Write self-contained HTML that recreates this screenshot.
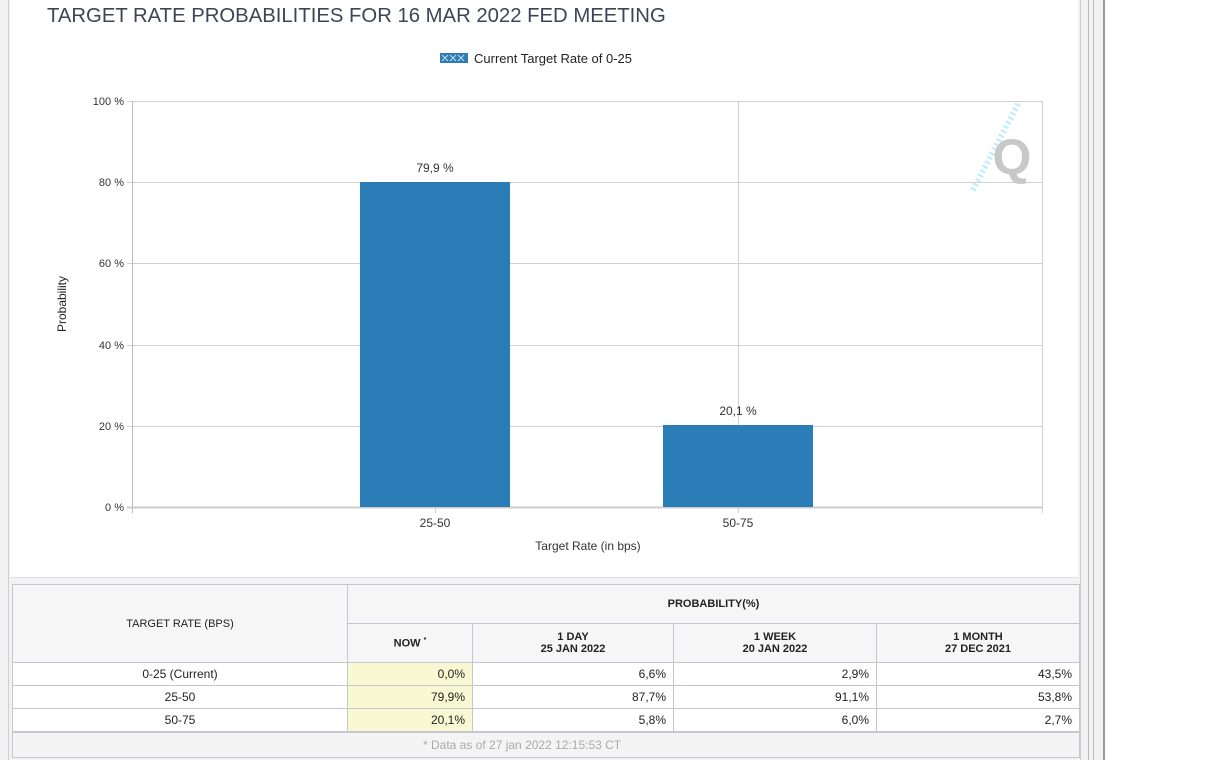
<!DOCTYPE html>
<html><head><meta charset="utf-8"><style>
body{margin:0;width:1220px;height:760px;background:#fff;position:relative;overflow:hidden;font-family:"Liberation Sans",Arial,sans-serif}
.abs{position:absolute}
table{border-collapse:collapse;position:absolute;left:12px;top:584px;width:1068px;font-size:12px;color:#222}
td{border:1px solid #c6c6d2;padding:0 7px;height:22px;background:#fff}
.h{background:#f6f6f6;text-align:center;font-weight:bold;font-size:11px}
.c{text-align:center}.r{text-align:right}td.y{background:#f8f8d2}
</style></head><body>
<div class="abs" style="left:0;top:0;width:1087px;height:760px;background:#f2f2f2"></div>
<div class="abs" style="left:8px;top:0;width:1px;height:760px;background:#d0d0d0"></div>
<div class="abs" style="left:1080px;top:0;width:22px;height:760px;background:#f2f2f2;border-left:1px solid #ccc;border-right:2px solid #999"></div>
<div class="abs" style="left:1088px;top:0;width:1px;height:760px;background:#bbb"></div>
<div class="abs" style="left:1093px;top:0;width:1px;height:760px;background:#bbb"></div>
<div class="abs" style="left:10px;top:0;width:1068px;height:577px;background:#fff;border-bottom:1px solid #ddd"></div>
<svg class="abs" style="left:0;top:0" width="1080" height="580" font-family="Liberation Sans, Arial, sans-serif">
<text x="47" y="22" font-size="20.3" fill="#3d4555">TARGET RATE PROBABILITIES FOR 16 MAR 2022 FED MEETING</text>
<rect x="440" y="53" width="28" height="10" fill="#2a7db6"/>
<path d="M442 55l6 6M448 55l-6 6M450 55l6 6M456 55l-6 6M458 55l6 6M464 55l-6 6" stroke="#cde" stroke-width="1"/>
<text x="474" y="63" font-size="13" fill="#222">Current Target Rate of 0-25</text>
<g stroke="#d0d0d0" stroke-width="1">
<line x1="127" y1="101.5" x2="1042" y2="101.5"/><line x1="127" y1="182.5" x2="1042" y2="182.5"/>
<line x1="127" y1="263.5" x2="1042" y2="263.5"/><line x1="127" y1="345.5" x2="1042" y2="345.5"/>
<line x1="127" y1="426.5" x2="1042" y2="426.5"/>
<line x1="738.5" y1="101" x2="738.5" y2="507"/><line x1="1042.5" y1="101" x2="1042.5" y2="513"/>
<line x1="132.5" y1="101" x2="132.5" y2="513" stroke="#bbb"/>
<line x1="127" y1="507.5" x2="1042" y2="507.5" stroke="#ccc" stroke-width="2"/>
<line x1="435.5" y1="507" x2="435.5" y2="513"/><line x1="738.5" y1="507" x2="738.5" y2="513"/>
</g>
<g font-size="11" fill="#333" text-anchor="end">
<text x="124" y="105">100 %</text><text x="124" y="186">80 %</text><text x="124" y="267">60 %</text>
<text x="124" y="349">40 %</text><text x="124" y="430">20 %</text><text x="124" y="511">0 %</text></g>
<text transform="translate(66,304) rotate(-90)" font-size="12" fill="#222" text-anchor="middle">Probability</text>
<rect x="360" y="182" width="150" height="325" fill="#2a7db6"/>
<rect x="663" y="425" width="150" height="82" fill="#2a7db6"/>
<g font-size="12" fill="#333" text-anchor="middle">
<text x="435" y="172">79,9 %</text><text x="738" y="415">20,1 %</text>
<text x="435" y="527">25-50</text><text x="738" y="527">50-75</text>
<text x="588" y="550">Target Rate (in bps)</text></g>
<path d="M1018 104L972 192" stroke="#b9ecff" stroke-width="6" stroke-dasharray="2 3" fill="none"/>
<text x="1012" y="174" font-size="50" font-weight="bold" fill="#c8c8c8" text-anchor="middle">Q</text>
</svg>
<table>
<tr style="height:39px"><td class="h" rowspan="2" style="width:320px;font-weight:normal;color:#222">TARGET RATE (BPS)</td><td class="h" colspan="4">PROBABILITY(%)</td></tr>
<tr style="height:39px"><td class="h" style="width:110px">NOW <sup style="font-size:7px">*</sup></td><td class="h" style="width:186px">1 DAY<br>25 JAN 2022</td><td class="h" style="width:188px">1 WEEK<br>20 JAN 2022</td><td class="h">1 MONTH<br>27 DEC 2021</td></tr>
<tr><td class="c">0-25 (Current)</td><td class="r y">0,0%</td><td class="r">6,6%</td><td class="r">2,9%</td><td class="r">43,5%</td></tr>
<tr><td class="c">25-50</td><td class="r y">79,9%</td><td class="r">87,7%</td><td class="r">91,1%</td><td class="r">53,8%</td></tr>
<tr><td class="c">50-75</td><td class="r y">20,1%</td><td class="r">5,8%</td><td class="r">6,0%</td><td class="r">2,7%</td></tr>
<tr style="height:25px"><td colspan="5" style="background:#f4f4f4;border-top:2px solid #c6c6d2;padding-left:410px;color:#aaa;font-size:12px">* Data as of 27 jan 2022 12:15:53 CT</td></tr>
</table>
</body></html>
